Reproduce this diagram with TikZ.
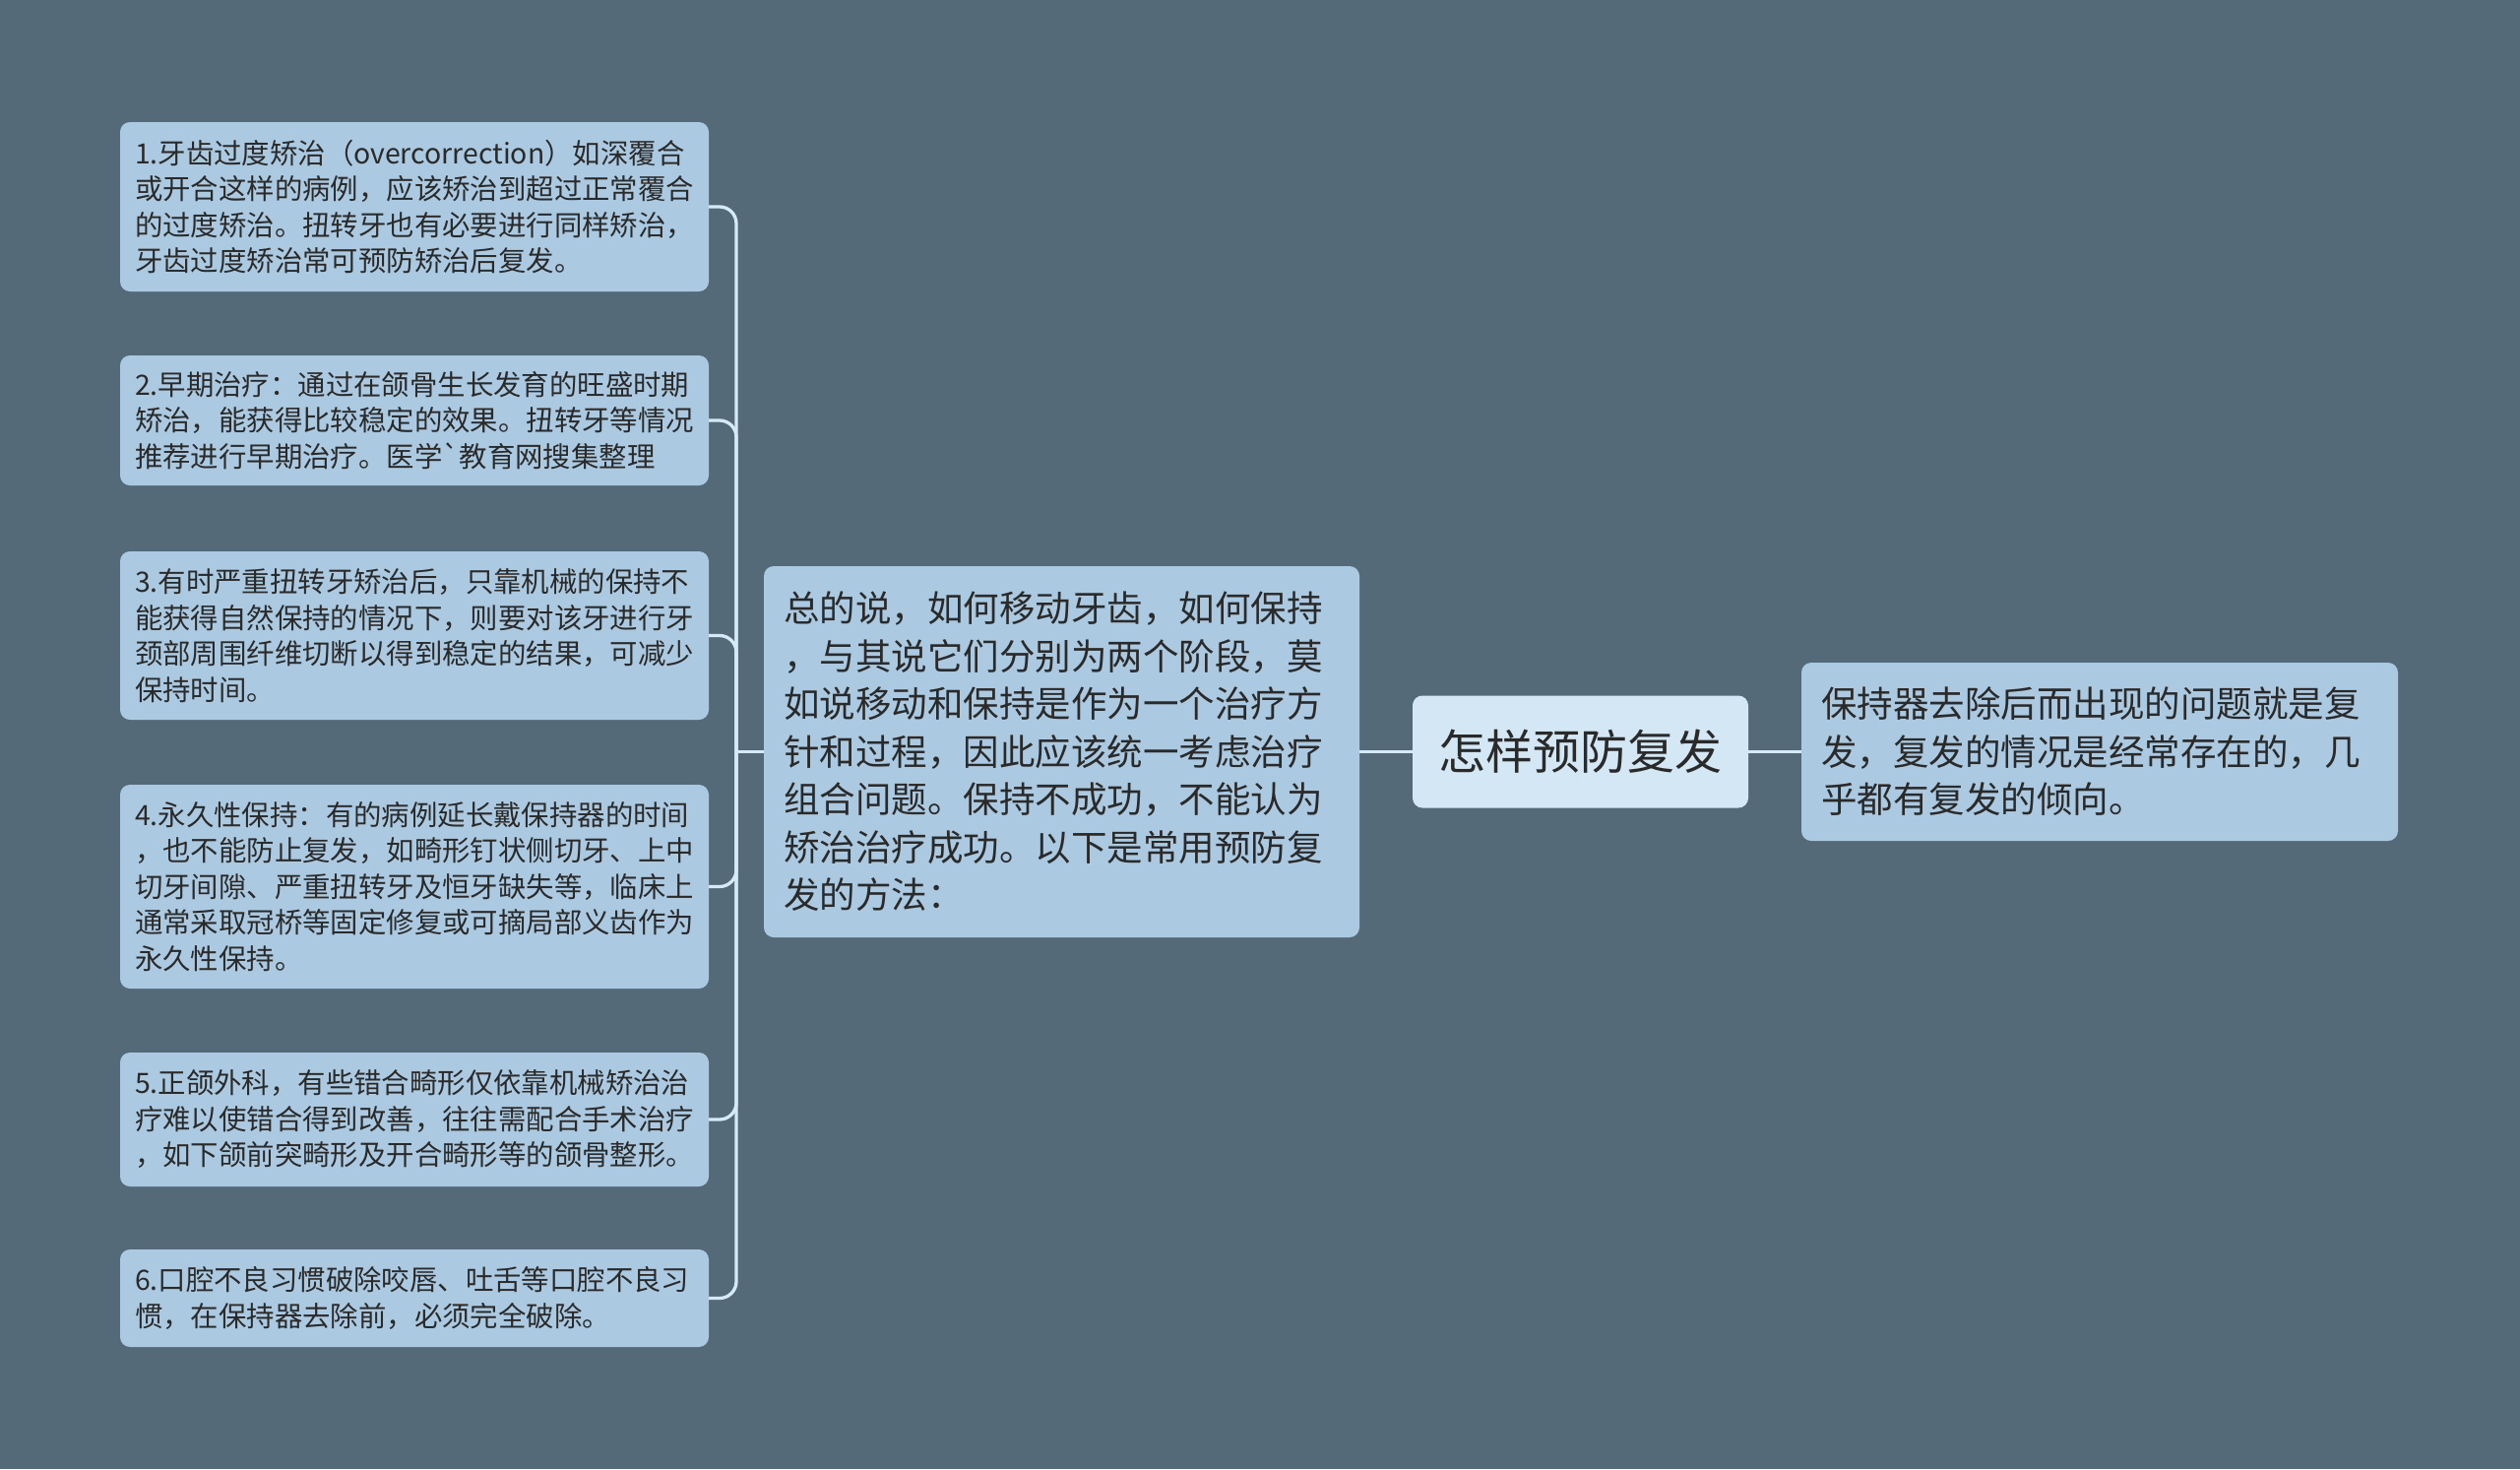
\documentclass[tikz,border=0pt]{standalone}
\usepackage{fontspec}
\newfontfamily\cjk{Noto Sans CJK SC}
\definecolor{bgc}{HTML}{546A79}
\definecolor{boxfill}{HTML}{ABCAE1}
\definecolor{rootfill}{HTML}{D3E7F4}
\definecolor{linec}{HTML}{D5EAF6}
\definecolor{txt}{HTML}{2A2A2A}
\begin{document}
\begin{tikzpicture}[x=1pt,y=-1pt,
  leaf/.style={fill=boxfill, rounded corners=10pt, align=left, inner xsep=15pt, inner ysep=0pt,
    text width=568pt, text=txt, font=\cjk\fontsize{28.4}{36.5}\selectfont},
  bigbox/.style={fill=boxfill, rounded corners=10pt, align=left, inner xsep=20pt, inner ysep=0pt,
    text width=566pt, text=txt, font=\cjk\fontsize{36.5}{48.5}\selectfont},
  rootbox/.style={fill=rootfill, rounded corners=10pt, align=center, inner sep=0pt,
    minimum width=341pt, minimum height=114pt, text=txt, font=\cjk\fontsize{48}{56}\selectfont},
  conn/.style={draw=linec, line width=3.3pt}]
\useasboundingbox (0,0) rectangle (2560,1492);
\fill[bgc] (0,0) rectangle (2560,1492);

\node[leaf, minimum height=172pt] (c1) at (421,210) {1.牙齿过度矫治（overcorrection）如深覆合\\或开合这样的病例，应该矫治到超过正常覆合\\的过度矫治。扭转牙也有必要进行同样矫治，\\牙齿过度矫治常可预防矫治后复发。};
\node[leaf, minimum height=132pt] (c2) at (421,427) {2.早期治疗：通过在颌骨生长发育的旺盛时期\\矫治，能获得比较稳定的效果。扭转牙等情况\\推荐进行早期治疗。医学`教育网搜集整理};
\node[leaf, minimum height=171pt] (c3) at (421,645.5) {3.有时严重扭转牙矫治后，只靠机械的保持不\\能获得自然保持的情况下，则要对该牙进行牙\\颈部周围纤维切断以得到稳定的结果，可减少\\保持时间。};
\node[leaf, minimum height=207pt] (c4) at (421,900.5) {4.永久性保持：有的病例延长戴保持器的时间\\，也不能防止复发，如畸形钉状侧切牙、上中\\切牙间隙、严重扭转牙及恒牙缺失等，临床上\\通常采取冠桥等固定修复或可摘局部义齿作为\\永久性保持。};
\node[leaf, minimum height=136pt] (c5) at (421,1137) {5.正颌外科，有些错合畸形仅依靠机械矫治治\\疗难以使错合得到改善，往往需配合手术治疗\\，如下颌前突畸形及开合畸形等的颌骨整形。};
\node[leaf, minimum height=99pt] (c6) at (421,1318.5) {6.口腔不良习惯破除咬唇、吐舌等口腔不良习\\惯，在保持器去除前，必须完全破除。};

\node[bigbox, text width=565pt, minimum height=377pt] (mid) at (1078.5,763.5) {总的说，如何移动牙齿，如何保持\\，与其说它们分别为两个阶段，莫\\如说移动和保持是作为一个治疗方\\针和过程，因此应该统一考虑治疗\\组合问题。保持不成功，不能认为\\矫治治疗成功。以下是常用预防复\\发的方法：};
\node[rootbox] (root) at (1605.5,763.5) {怎样预防复发};
\node[bigbox, minimum height=181pt] (right) at (2133,763.5) {保持器去除后而出现的问题就是复\\发，复发的情况是经常存在的，几\\乎都有复发的倾向。};

\coordinate (bus) at (748,0);
\draw[conn] (mid.west) -- (mid.west -| bus);
\foreach \c in {c1,c2,c3,c4,c5,c6}
  \draw[conn, rounded corners=17pt] (mid.west -| bus) |- (\c.east);
\draw[conn] (mid.east) -- (root.west);
\draw[conn] (root.east) -- (right.west);
\end{tikzpicture}
\end{document}
